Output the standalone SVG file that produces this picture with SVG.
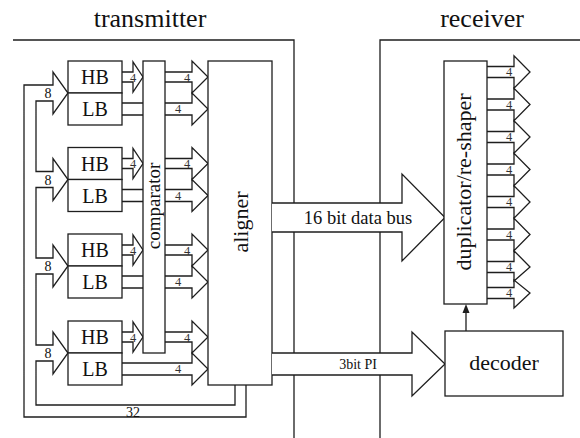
<svg xmlns="http://www.w3.org/2000/svg" width="580" height="438" viewBox="0 0 580 438">
<style>
.ln{fill:none;stroke:#1e1e1e;stroke-width:1.3}
.ar{fill:#fff;stroke:#1e1e1e;stroke-width:1.3}
.bx{fill:#fff;stroke:#1e1e1e;stroke-width:1.3}
.tx{font-family:'Liberation Serif','Times New Roman',serif;text-anchor:middle;fill:#111}
.hd{font-size:26px}
.bl{font-size:20px}
.big{font-size:22px}
.n4{font-size:12.5px;fill:#333}
.n8{font-size:14px}
</style>
<rect width="580" height="438" fill="#fff"/>
<g id="headers">
<text class="tx hd" x="150" y="27">transmitter</text>
<text class="tx hd" x="482" y="27">receiver</text>
</g>
<g id="connectors">
<path class="ln" d="M13,40 H294 V438"/>
<path class="ln" d="M380,438 V40 H580"/>
<path class="ln" d="M246,385 V417 H24 V85 H53 V72 L68,93 L53,114 V101 H36 V171.5 H53 V158.5 L68,179.5 L53,200.5 V187.5 H36 V258 H53 V245 L68,266 L53,287 V274 H36 V345 H53 V332 L68,353 L53,374 V361 H36 V405 H235 V385"/>
<path class="ar" d="M122,103 H192 V93 L208,109 L192,125 V115 H122"/>
<path class="ar" d="M122,72 H133 V62 L143,77 L133,92 V82 H122"/>
<path class="ar" d="M165,72 H192 V61 L208,77 L192,93 V82 H165"/>
<path class="ar" d="M122,189.5 H192 V179.5 L208,195.5 L192,211.5 V201.5 H122"/>
<path class="ar" d="M122,158.5 H133 V148.5 L143,163.5 L133,178.5 V168.5 H122"/>
<path class="ar" d="M165,158.5 H192 V147.5 L208,163.5 L192,179.5 V168.5 H165"/>
<path class="ar" d="M122,276 H192 V266 L208,282 L192,298 V288 H122"/>
<path class="ar" d="M122,245 H133 V235 L143,250 L133,265 V255 H122"/>
<path class="ar" d="M165,245 H192 V234 L208,250 L192,266 V255 H165"/>
<path class="ar" d="M122,363 H192 V353 L208,369 L192,385 V375 H122"/>
<path class="ar" d="M122,332 H133 V322 L143,337 L133,352 V342 H122"/>
<path class="ar" d="M165,332 H192 V321 L208,337 L192,353 V342 H165"/>
</g>
<g id="comparator">
<rect class="bx" x="143" y="61" width="22" height="292"/>
<text class="tx" font-size="19" transform="translate(160,206) rotate(-90)">comparator</text>
</g>
<g id="hb1"><rect class="bx" x="68" y="61" width="54" height="32"/><text class="tx bl" x="95" y="84">HB</text></g>
<g id="lb1"><rect class="bx" x="68" y="93" width="54" height="32"/><text class="tx bl" x="95" y="116">LB</text></g>
<g id="hb2"><rect class="bx" x="68" y="147.5" width="54" height="32"/><text class="tx bl" x="95" y="170.5">HB</text></g>
<g id="lb2"><rect class="bx" x="68" y="179.5" width="54" height="32"/><text class="tx bl" x="95" y="202.5">LB</text></g>
<g id="hb3"><rect class="bx" x="68" y="234" width="54" height="32"/><text class="tx bl" x="95" y="257">HB</text></g>
<g id="lb3"><rect class="bx" x="68" y="266" width="54" height="32"/><text class="tx bl" x="95" y="289">LB</text></g>
<g id="hb4"><rect class="bx" x="68" y="321" width="54" height="32"/><text class="tx bl" x="95" y="344">HB</text></g>
<g id="lb4"><rect class="bx" x="68" y="353" width="54" height="32"/><text class="tx bl" x="95" y="376">LB</text></g>
<g id="aligner">
<rect class="bx" x="208" y="61" width="64" height="324"/>
<text class="tx big" transform="translate(248,222) rotate(-90)">aligner</text>
</g>
<g id="buses">
<path class="ar" d="M272,203 H402 V174 L445,217.5 L402,261 V232 H272"/>
<text class="tx" font-size="18.5" x="358" y="223.5">16 bit data bus</text>
<path class="ar" d="M272,353 H412 V332 L445,364 L412,396 V375 H272"/>
<text class="tx" font-size="14" x="358" y="368.5">3bit PI</text>
</g>
<g id="outputs">
<path class="ar" d="M487,66.5 H514 V55.75 L530,72 L514,88.25 V77.5 H487"/>
<path class="ar" d="M487,99 H514 V88.25 L530,104.5 L514,120.75 V110 H487"/>
<path class="ar" d="M487,131.5 H514 V120.75 L530,137 L514,153.25 V142.5 H487"/>
<path class="ar" d="M487,164 H514 V153.25 L530,169.5 L514,185.75 V175 H487"/>
<path class="ar" d="M487,196.5 H514 V185.75 L530,202 L514,218.25 V207.5 H487"/>
<path class="ar" d="M487,229 H514 V218.25 L530,234.5 L514,250.75 V240 H487"/>
<path class="ar" d="M487,261.5 H514 V250.75 L530,267 L514,281 V272.5 H487"/>
<path class="ar" d="M487,287.5 H514 V280 L530,293 L514,308 V298.5 H487"/>
</g>
<g id="duplicator">
<rect class="bx" x="444" y="61" width="43" height="243"/>
<text class="tx big" transform="translate(471,182) rotate(-90)">duplicator/re-shaper</text>
</g>
<g id="decoder">
<rect class="bx" x="445" y="331" width="118" height="65"/>
<text class="tx big" x="504" y="370">decoder</text>
</g>
<g id="control">
<path class="ln" d="M466,331 V311"/>
<path d="M466,304 L462.5,313 L469.5,313 Z" fill="#1e1e1e"/>
</g>
<g id="labels">
<text class="tx n8" x="48" y="98">8</text>
<text class="tx n8" x="48" y="184.5">8</text>
<text class="tx n8" x="48" y="271">8</text>
<text class="tx n8" x="48" y="358">8</text>
<text class="tx n8" x="133" y="417">32</text>
<text class="tx n4" x="133" y="81.5">4</text>
<text class="tx n4" x="187" y="81.5">4</text>
<text class="tx n4" x="178" y="113">4</text>
<text class="tx n4" x="133" y="168">4</text>
<text class="tx n4" x="187" y="168">4</text>
<text class="tx n4" x="178" y="199.5">4</text>
<text class="tx n4" x="133" y="254.5">4</text>
<text class="tx n4" x="187" y="254.5">4</text>
<text class="tx n4" x="178" y="286">4</text>
<text class="tx n4" x="133" y="341.5">4</text>
<text class="tx n4" x="187" y="341.5">4</text>
<text class="tx n4" x="178" y="373">4</text>
<text class="tx n4" x="509" y="76">4</text>
<text class="tx n4" x="509" y="108.5">4</text>
<text class="tx n4" x="509" y="141">4</text>
<text class="tx n4" x="509" y="173.5">4</text>
<text class="tx n4" x="509" y="206">4</text>
<text class="tx n4" x="509" y="238.5">4</text>
<text class="tx n4" x="509" y="271">4</text>
<text class="tx n4" x="509" y="297">4</text>
</g>
</svg>
